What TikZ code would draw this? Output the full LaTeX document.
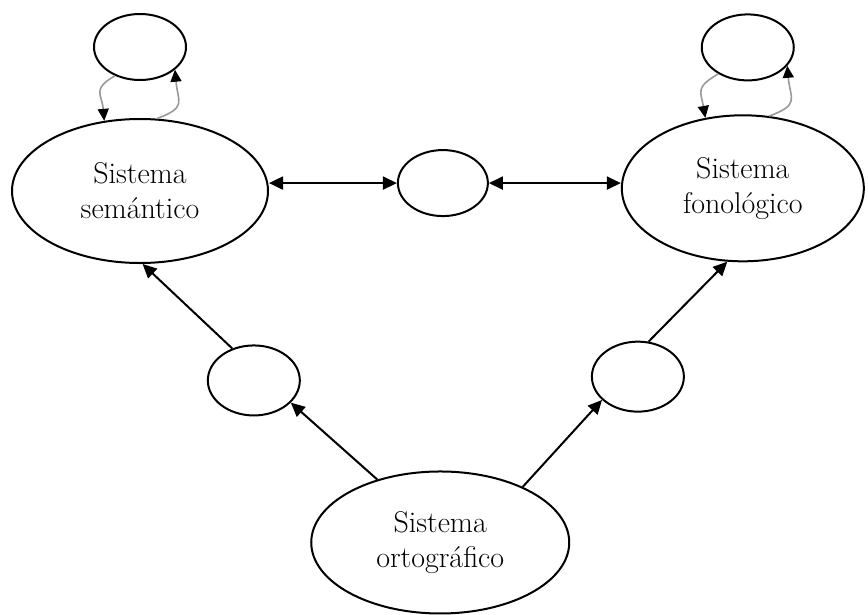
\documentclass[tikz,border=0pt]{standalone}
\usepackage{tikz}
\usetikzlibrary{arrows.meta}
\usetikzlibrary{positioning}
\usetikzlibrary{shapes.geometric}
\newdimen\nodeDist
\nodeDist=300pt

\begin{document}
\begin{tikzpicture}[
    >={Triangle[length=14pt,width=13pt]},
    node/.style={%
      draw,
      ellipse,
      line width=2pt,
      inner sep=0pt,
      align=center,
      font=\fontsize{30}{35}\selectfont,
    },
    small/.style={%
      node,
      minimum width=92pt,
      minimum height=68pt,
    },
    link/.style={%
      line width=2pt,
    },
    feedback/.style={%
      gray!80,
      line width=1.6pt,
      -{Triangle[length=12pt,width=11pt,color=black]},
    },
  ]

    \useasboundingbox (-140pt,191pt) rectangle (728pt,-423pt);

    \node [node, minimum width=256pt, minimum height=144pt] (sem) {Sistema\\semántico};
    \path (sem) ++(90:144pt) node [small, minimum height=66pt] (tl) {};
    \path (sem) ++(1.5:303pt) node [small, minimum width=90pt, minimum height=66pt] (mid) {};
    \path (mid) ++(-1:\nodeDist) node [node, minimum width=242pt, minimum height=146pt] (fon) {Sistema\\fonológico};
    \path (fon) ++(88:141pt) node [small, minimum height=66pt] (tr) {};
    \path (sem) ++(-59:221pt) node [small, minimum height=70pt] (ls) {};
    \path (ls) ++(-41:247pt) node [node, minimum width=258pt, minimum height=142pt] (orto) {Sistema\\ortográfico};
    \path (orto) ++(40:258pt) node [small, minimum height=70pt] (rs) {};

    \draw [link, <->] (sem.east |- mid.west) -- (mid.west);
    \draw [link, <->] (mid.east) -- (fon.west |- mid.east);

    \draw [link, ->] (ls.124) -- (sem.-88);
    \draw [link, ->] (orto.135) -- (ls.-31);
    \draw [link, ->] (orto.34) -- (rs.213);
    \draw [link, ->] (rs.73) -- (fon.258);

    \draw [feedback] (tl.229) to [out=210, in=95, looseness=1.5] (sem.117);
    \draw [feedback] (sem.77) to [out=20, in=-85, looseness=1.6] (tl.-33);
    \draw [feedback] (tr.222) to [out=210, in=100, looseness=1.5] (fon.118);
    \draw [feedback] (fon.70) to [out=20, in=-85, looseness=1.6] (tr.-25);
\end{tikzpicture}
\end{document}
